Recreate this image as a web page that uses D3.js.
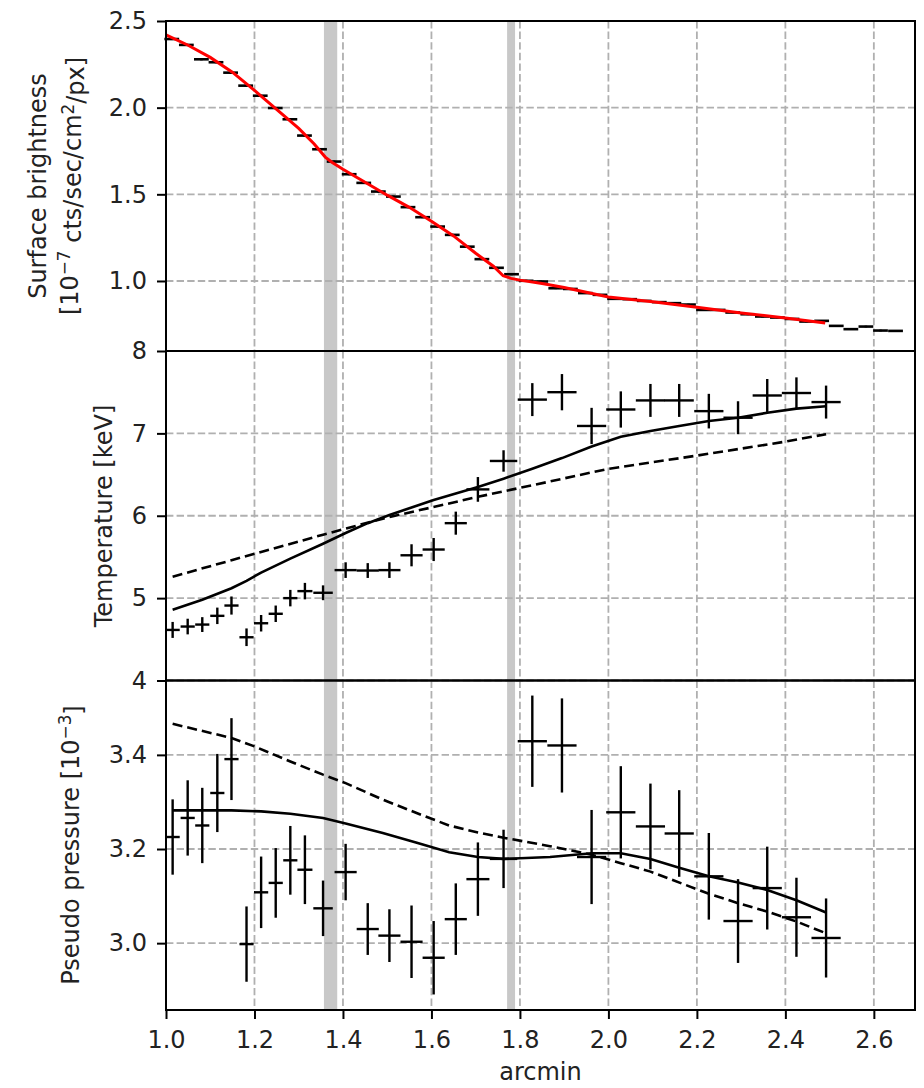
<html>
<head>
<style>
  body { margin: 0; background: #ffffff; }
  text { font-family: "DejaVu Sans", sans-serif; fill: #222; }
</style>
</head>
<body>
<svg id="chart" width="924" height="1088"></svg>
<script src="https://cdnjs.cloudflare.com/ajax/libs/d3/7.8.5/d3.min.js"></script>
<script>
// ---- surface brightness profile (fine bins) ----
let sbR = [1.013,1.046,1.080,1.113,1.146,1.180,1.213,1.247,1.280,1.313,1.347,1.380,1.414,1.447,1.480,1.514,1.547,1.580,1.614,1.647,
           1.681,1.714,1.747,1.781,1.814,1.847,1.881,1.914,1.948,1.981,2.014,2.048,2.081,2.115,2.148,2.181,2.215,2.248,2.281,2.315,
           2.348,2.382,2.415,2.448,2.482,2.515,2.548,2.582,2.615,2.649]
let sbVal = [2.396,2.362,2.279,2.262,2.202,2.127,2.069,1.998,1.933,1.839,1.760,1.689,1.616,1.566,1.516,1.487,1.426,1.368,1.314,1.266,
             1.198,1.126,1.076,1.039,1.001,0.997,0.958,0.954,0.930,0.920,0.897,0.895,0.885,0.878,0.872,0.864,0.833,0.833,0.818,0.808,
             0.795,0.789,0.781,0.766,0.770,0.741,0.722,0.737,0.714,0.712]
let sbErr = [0.006,0.006,0.006,0.006,0.006,0.006,0.006,0.006,0.006,0.006,0.006,0.006,0.006,0.006,0.006,0.006,0.006,0.006,0.006,0.006,
             0.006,0.006,0.006,0.006,0.006,0.005,0.005,0.005,0.005,0.005,0.005,0.005,0.005,0.005,0.005,0.005,0.005,0.005,0.005,0.005,
             0.005,0.005,0.005,0.005,0.005,0.005,0.005,0.005,0.005,0.005]
let sbHalf = 0.0167

// red model through the surface brightness
let sbModelR = [1.0,1.05,1.10,1.15,1.20,1.25,1.30,1.335,1.36,1.375,1.40,1.45,1.50,1.55,1.60,1.65,1.70,1.74,1.762,1.78,1.80,1.85,1.90,2.0,2.1,2.2,2.3,2.4,2.49]
let sbModel  = [2.42,2.36,2.29,2.205,2.10,1.99,1.88,1.79,1.715,1.685,1.645,1.57,1.495,1.425,1.345,1.26,1.16,1.085,1.03,1.015,1.005,0.985,0.962,0.908,0.88,0.848,0.815,0.787,0.758]

// ---- spectral bins (temperature and pressure share them) ----
let binR = [1.015,1.049,1.082,1.116,1.148,1.182,1.215,1.248,1.281,1.314,1.355,1.406,1.456,1.505,1.555,1.605,1.655,1.705,1.763,1.828,
            1.895,1.962,2.028,2.095,2.160,2.227,2.293,2.359,2.425,2.492]
let binHalf = [0.016,0.016,0.016,0.016,0.016,0.016,0.016,0.016,0.016,0.017,0.022,0.025,0.025,0.025,0.025,0.025,0.025,0.026,0.031,0.033,
               0.033,0.033,0.033,0.033,0.033,0.033,0.033,0.033,0.033,0.033]

let tempVal = [4.614,4.655,4.679,4.785,4.91,4.525,4.695,4.81,5.00,5.085,5.065,5.34,5.335,5.34,5.52,5.59,5.91,6.32,6.665,7.41,
               7.50,7.09,7.29,7.40,7.40,7.27,7.19,7.46,7.49,7.38]
let tempErr = [0.097,0.095,0.09,0.1,0.11,0.107,0.1,0.1,0.1,0.1,0.09,0.095,0.09,0.095,0.134,0.14,0.14,0.15,0.13,0.2,
               0.22,0.22,0.22,0.2,0.2,0.21,0.2,0.2,0.19,0.2]

let tempSolidR = [1.015,1.082,1.148,1.182,1.215,1.281,1.355,1.406,1.456,1.505,1.555,1.605,1.655,1.705,1.763,1.828,1.895,1.962,2.028,2.095,2.160,2.227,2.293,2.359,2.425,2.492]
let tempSolid  = [4.86,4.98,5.12,5.21,5.31,5.48,5.66,5.79,5.91,6.01,6.10,6.19,6.27,6.35,6.45,6.57,6.70,6.84,6.96,7.03,7.09,7.15,7.19,7.25,7.30,7.33]
let tempDashR = [1.015,1.148,1.215,1.355,1.49,1.64,1.705,1.828,2.0,2.2,2.4,2.492]
let tempDash  = [5.26,5.46,5.56,5.77,5.965,6.15,6.23,6.37,6.57,6.73,6.90,6.99]

let presVal = [3.2255,3.266,3.250,3.319,3.391,2.998,3.108,3.128,3.176,3.156,3.074,3.151,3.030,3.016,3.003,2.969,3.051,3.136,3.179,3.429,
               3.420,3.183,3.278,3.248,3.233,3.142,3.047,3.117,3.055,3.011]
let presErr = [0.08,0.08,0.08,0.083,0.087,0.08,0.076,0.074,0.073,0.073,0.059,0.06,0.055,0.056,0.077,0.078,0.076,0.078,0.062,0.097,
               0.10,0.10,0.098,0.091,0.092,0.092,0.089,0.088,0.084,0.084]

let presSolidR = [1.015,1.148,1.215,1.281,1.355,1.406,1.49,1.565,1.64,1.705,1.763,1.868,1.962,2.028,2.095,2.160,2.227,2.293,2.359,2.425,2.492]
let presSolid  = [3.282,3.282,3.280,3.275,3.266,3.254,3.234,3.214,3.193,3.183,3.179,3.183,3.191,3.191,3.179,3.160,3.142,3.129,3.113,3.091,3.065]
let presDashR = [1.015,1.148,1.2,1.281,1.355,1.406,1.49,1.565,1.64,1.705,1.763,1.868,1.962,2.028,2.095,2.227,2.293,2.359,2.425,2.492]
let presDash  = [3.466,3.436,3.418,3.386,3.358,3.340,3.305,3.277,3.250,3.235,3.224,3.206,3.188,3.170,3.152,3.105,3.085,3.067,3.046,3.021]

// shaded shock/front regions
let bands = [[1.357, 1.387], [1.771, 1.789]]

let xTicks = [1.0,1.2,1.4,1.6,1.8,2.0,2.2,2.4,2.6]
let sbTicks = [1.0,1.5,2.0,2.5]
let tTicks = [4,5,6,7,8]
let pTicks = [3.0,3.2,3.4]

// ---- layout ----
let svg = d3.select("#chart")
let plotLeft = 166, plotRight = 915
let plotTop = 21, plotBottom = 1010
let fs = 24

let x = d3.scaleLinear().domain([1.0, 2.693]).range([plotLeft, plotRight])

let panels = [
  { y: d3.scaleLinear().domain([0.596, 2.5]).range([351, 21]), ticks: sbTicks, fmt: d3.format(".1f") },
  { y: d3.scaleLinear().domain([4, 8]).range([680.5, 351]), ticks: tTicks, fmt: d3.format("d") },
  { y: d3.scaleLinear().domain([2.858, 3.558]).range([1010, 680.5]), ticks: pTicks, fmt: d3.format(".1f") }
]

// bands across all panels
svg.append("g").selectAll("rect")
  .data(bands)
  .enter().append("rect")
  .attr("x", d => x(d[0]))
  .attr("width", d => x(d[1]) - x(d[0]))
  .attr("y", plotTop)
  .attr("height", plotBottom - plotTop)
  .attr("fill", "#c8c8c8")

// grids
panels.forEach(p => {
  let [y0, y1] = p.y.range()
  let g = svg.append("g")
    .attr("stroke", "#b0b0b0")
    .attr("stroke-width", 1.8)
    .attr("stroke-dasharray", "7.4,3.2")
  g.selectAll(".vg")
    .data(xTicks.filter(t => t > 1.0))
    .enter().append("line")
    .attr("x1", d => x(d)).attr("x2", d => x(d))
    .attr("y1", y1).attr("y2", y0)
  g.selectAll(".hg")
    .data(p.ticks)
    .enter().append("line")
    .attr("x1", plotLeft).attr("x2", plotRight)
    .attr("y1", d => p.y(d)).attr("y2", d => p.y(d))
})

// ---- data ----
let line = d3.line()

function errorBars(g, xs, ys, xh, ye, yscale, w) {
  let idx = xs.map((r, i) => i)
  let half = i => Array.isArray(xh) ? xh[i] : xh
  g.selectAll(null)
    .data(idx)
    .enter().append("line")
    .attr("x1", i => x(xs[i] - half(i)))
    .attr("x2", i => x(xs[i] + half(i)))
    .attr("y1", i => yscale(ys[i])).attr("y2", i => yscale(ys[i]))
    .attr("stroke", "black").attr("stroke-width", w)
  g.selectAll(null)
    .data(idx)
    .enter().append("line")
    .attr("x1", i => x(xs[i])).attr("x2", i => x(xs[i]))
    .attr("y1", i => yscale(ys[i] - ye[i])).attr("y2", i => yscale(ys[i] + ye[i]))
    .attr("stroke", "black").attr("stroke-width", w)
}

// surface brightness
let sbG = svg.append("g")
errorBars(sbG, sbR, sbVal, sbHalf, sbErr, panels[0].y, 2.6)
sbG.append("path")
  .attr("d", line(sbModelR.map((r, i) => [x(r), panels[0].y(sbModel[i])])))
  .attr("fill", "none").attr("stroke", "#ff0000").attr("stroke-width", 3)

// temperature
let tG = svg.append("g")
tG.append("path")
  .attr("d", line(tempSolidR.map((r, i) => [x(r), panels[1].y(tempSolid[i])])))
  .attr("fill", "none").attr("stroke", "black").attr("stroke-width", 2.6)
tG.append("path")
  .attr("d", line(tempDashR.map((r, i) => [x(r), panels[1].y(tempDash[i])])))
  .attr("fill", "none").attr("stroke", "black").attr("stroke-width", 2.6)
  .attr("stroke-dasharray", "10,5")
errorBars(tG, binR, tempVal, binHalf, tempErr, panels[1].y, 2.4)

// pressure
let pG = svg.append("g")
pG.append("path")
  .attr("d", line(presSolidR.map((r, i) => [x(r), panels[2].y(presSolid[i])])))
  .attr("fill", "none").attr("stroke", "black").attr("stroke-width", 2.6)
pG.append("path")
  .attr("d", line(presDashR.map((r, i) => [x(r), panels[2].y(presDash[i])])))
  .attr("fill", "none").attr("stroke", "black").attr("stroke-width", 2.6)
  .attr("stroke-dasharray", "10,5")
errorBars(pG, binR, presVal, binHalf, presErr, panels[2].y, 2.4)

// ---- spines and axes ----
panels.forEach(p => {
  let [y0, y1] = p.y.range()
  svg.append("rect")
    .attr("x", plotLeft).attr("y", y1)
    .attr("width", plotRight - plotLeft).attr("height", y0 - y1)
    .attr("fill", "none").attr("stroke", "black").attr("stroke-width", 2)

  let ax = svg.append("g")
    .attr("transform", `translate(${plotLeft},0)`)
    .call(d3.axisLeft(p.y).tickValues(p.ticks).tickFormat(p.fmt).tickSize(9).tickPadding(10))
  ax.select(".domain").remove()
  ax.selectAll("line").attr("stroke-width", 2)
  ax.selectAll("text").attr("font-size", fs).attr("font-family", "DejaVu Sans").attr("fill", "#222")
})

let xa = svg.append("g")
  .attr("transform", `translate(0,${plotBottom})`)
  .call(d3.axisBottom(x).tickValues(xTicks).tickFormat(d3.format(".1f")).tickSize(9).tickPadding(12))
xa.select(".domain").remove()
xa.selectAll("line").attr("stroke-width", 2)
xa.selectAll("text").attr("font-size", fs).attr("font-family", "DejaVu Sans").attr("fill", "#222")

// ---- axis titles ----
svg.append("text")
  .attr("x", (plotLeft + plotRight) / 2).attr("y", 1080)
  .attr("text-anchor", "middle").attr("font-size", fs)
  .text("arcmin")

function yTitle(cx, cy) {
  return svg.append("text")
    .attr("transform", `translate(${cx},${cy}) rotate(-90)`)
    .attr("text-anchor", "middle").attr("font-size", fs)
}

yTitle(46, 186).text("Surface brightness")
let l2 = yTitle(78, 186)
l2.append("tspan").text("[10")
l2.append("tspan").attr("dy", "-0.45em").attr("font-size", fs * 0.7).text("\u22127")
l2.append("tspan").attr("dy", "0.45em").text(" cts/sec/cm")
l2.append("tspan").attr("dy", "-0.45em").attr("font-size", fs * 0.7).text("2")
l2.append("tspan").attr("dy", "0.45em").text("/px]")

yTitle(112, 516).text("Temperature [keV]")

let l3 = yTitle(79, 845)
l3.append("tspan").text("Pseudo pressure [10")
l3.append("tspan").attr("dy", "-0.45em").attr("font-size", fs * 0.7).text("\u22123")
l3.append("tspan").attr("dy", "0.45em").text("]")
</script>
</body>
</html>
